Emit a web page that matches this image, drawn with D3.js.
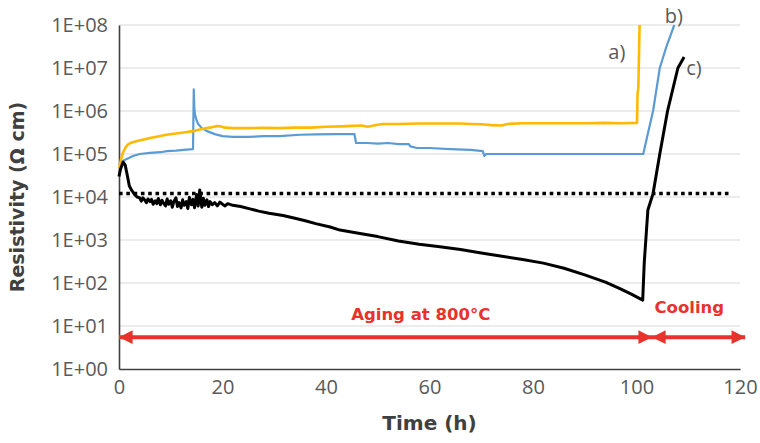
<!DOCTYPE html>
<html>
<head>
<meta charset="utf-8">
<script src="https://cdn.jsdelivr.net/npm/d3@7/dist/d3.min.js"></script>
<style>
  html, body { margin: 0; padding: 0; background: #ffffff; }
  svg { display: block; }
  text { font-family: "Open Sans", "Noto Sans", sans-serif; }
  .title, .stage { font-family: "DejaVu Sans", "Open Sans", sans-serif; font-weight: bold; }
</style>
</head>
<body>
<svg id="chart" width="760" height="443"></svg>
<script>
// Resistivity vs. time during aging at 800 °C followed by cooling

// series a) — yellow
const timeA = [0, 0.4, 0.8, 1.3, 1.8, 2.5, 3.5, 5, 6, 7.5, 9.2, 11, 12.5, 14.3, 16, 17.5, 19, 19.5, 20.5, 22, 25, 28, 31, 34, 37, 40, 43, 45, 47, 48, 50, 51, 54, 58, 62, 66, 68, 70, 72, 74, 75, 78, 82, 86, 90, 94, 97, 99.9, 100.1, 100.2, 100.35, 100.45, 100.6];
const valueA = [4.6e4, 7.5e4, 1.1e5, 1.45e5, 1.7e5, 1.85e5, 2.0e5, 2.2e5, 2.35e5, 2.55e5, 2.8e5, 3.0e5, 3.15e5, 3.4e5, 3.8e5, 4.1e5, 4.5e5, 4.4e5, 4.1e5, 4.0e5, 4.0e5, 4.05e5, 4.0e5, 4.1e5, 4.1e5, 4.3e5, 4.4e5, 4.5e5, 4.6e5, 4.3e5, 4.8e5, 5.0e5, 5.0e5, 5.1e5, 5.1e5, 5.1e5, 5.0e5, 4.9e5, 4.7e5, 4.6e5, 5.0e5, 5.2e5, 5.2e5, 5.2e5, 5.2e5, 5.3e5, 5.2e5, 5.3e5, 5.3e5, 2.5e6, 3.5e6, 1.2e7, 1e8];

// series b) — blue
const timeB = [0, 0.5, 1, 2, 2.7, 4, 6, 8, 9.3, 11, 12.5, 14.3, 14.45, 14.55, 14.7, 15, 15.3, 16, 17, 18.5, 20, 22, 25, 28, 31, 35, 38, 42, 45.5, 45.8, 48, 50, 52, 54, 56, 56.3, 57.6, 60, 64, 68, 70.3, 70.6, 71, 71.3, 75, 80, 85, 90, 95, 101.3, 102.2, 103.2, 104.5, 105.8, 107.3];
const valueB = [5.5e4, 6.3e4, 7.2e4, 8.2e4, 9.0e4, 1.0e5, 1.06e5, 1.1e5, 1.17e5, 1.2e5, 1.25e5, 1.3e5, 3.2e6, 1.2e6, 8.0e5, 6.0e5, 5.0e5, 4.0e5, 3.4e5, 2.9e5, 2.6e5, 2.5e5, 2.5e5, 2.6e5, 2.6e5, 2.8e5, 2.85e5, 2.9e5, 2.9e5, 1.8e5, 1.8e5, 1.75e5, 1.8e5, 1.7e5, 1.7e5, 1.5e5, 1.38e5, 1.38e5, 1.3e5, 1.25e5, 1.17e5, 9.0e4, 1.0e5, 1.0e5, 1.0e5, 1.0e5, 1.0e5, 1.0e5, 1.0e5, 1.0e5, 3.0e5, 1.0e6, 1.0e7, 3.2e7, 1e8];

// series c) — black
const timeC = [0, 0.3, 0.8, 1.2, 1.6, 2.0, 2.5, 3.0, 3.5, 4.0, 4.3, 4.6, 5.0, 5.3, 5.6, 6.0, 6.3, 6.6, 7.0, 7.3, 7.6, 8.0, 8.3, 8.6, 9.0, 9.3, 9.6, 10, 10.3, 10.6, 11, 11.3, 11.6, 12, 12.3, 12.6, 13, 13.3, 13.6, 14, 14.3, 14.6, 15, 15.3, 15.6, 16, 16.3, 16.6, 17, 17.3, 17.6, 18, 18.5, 19, 19.5, 20, 20.5, 21, 22, 23.5, 25.3, 27, 29, 31.7, 34, 36, 38, 40.8, 42.7, 46, 50, 54, 58, 62, 66, 70, 74, 78, 82, 86, 90, 94, 97, 99, 101.2, 101.5, 101.8, 102.2, 103.2, 104.5, 106, 108, 109.2];
const valueC = [3.0e4, 4.5e4, 6.5e4, 5.5e4, 3.2e4, 1.8e4, 1.4e4, 1.15e4, 1.0e4, 9.5e3, 8.0e3, 9.6e3, 8.4e3, 7.4e3, 9.0e3, 7.8e3, 8.8e3, 6.8e3, 8.2e3, 7.0e3, 9.2e3, 6.6e3, 8.4e3, 7.2e3, 6.2e3, 9.0e3, 6.8e3, 8.2e3, 5.8e3, 7.8e3, 9.6e3, 6.0e3, 7.4e3, 5.6e3, 8.6e3, 6.4e3, 7.8e3, 5.4e3, 9.8e3, 6.6e3, 8.8e3, 5.6e3, 1.15e4, 6.2e3, 1.45e4, 5.8e3, 9.4e3, 6.4e3, 8.6e3, 6.0e3, 7.8e3, 6.6e3, 7.4e3, 6.2e3, 7.6e3, 6.8e3, 6.2e3, 7.0e3, 6.4e3, 6.0e3, 5.3e3, 4.7e3, 4.2e3, 3.7e3, 3.2e3, 2.8e3, 2.4e3, 2.0e3, 1.7e3, 1.45e3, 1.2e3, 9.5e2, 8.0e2, 7.0e2, 6.0e2, 5.0e2, 4.2e2, 3.5e2, 2.9e2, 2.2e2, 1.55e2, 1.05e2, 7.2e1, 5.5e1, 4.0e1, 3.0e2, 1.0e3, 5.0e3, 1.2e4, 1.0e5, 1.0e6, 1.0e7, 1.8e7];

// horizontal dotted reference level
const timeRef = [0, 118];
const valueRef = [1.2e4, 1.2e4];

const xTicks = [0, 20, 40, 60, 80, 100, 120];
const yTicks = [1, 1e1, 1e2, 1e3, 1e4, 1e5, 1e6, 1e7, 1e8];
const yTickLabels = ["1E+00", "1E+01", "1E+02", "1E+03", "1E+04", "1E+05", "1E+06", "1E+07", "1E+08"];

const seriesLabels = ["a)", "b)", "c)"];
const stageNames = ["Aging at 800\u00B0C", "Cooling"];
const stageBounds = [[0, 103], [103, 121]];

const svg = d3.select("#chart");
const plot = { left: 119, right: 740, top: 25, bottom: 369 };

const x = d3.scaleLinear().domain([0, 120]).range([plot.left, plot.right]);
const y = d3.scaleLog().domain([1, 1e8]).range([plot.bottom, plot.top]);

const axisColor = "#595959";

// horizontal gridlines
svg.append("g")
  .selectAll("line")
  .data(yTicks.slice(1))
  .join("line")
  .attr("x1", plot.left).attr("x2", plot.right)
  .attr("y1", d => y(d)).attr("y2", d => y(d))
  .attr("stroke", "#d9d9d9").attr("stroke-width", 1.2);

// y axis
const yAxis = d3.axisLeft(y)
  .tickValues(yTicks)
  .tickFormat((d, i) => yTickLabels[i])
  .tickSize(0)
  .tickPadding(11);
const gy = svg.append("g").attr("transform", `translate(${plot.left},0)`).call(yAxis);
gy.select(".domain").attr("stroke", "#404040").attr("stroke-width", 1.6);
gy.selectAll("text")
  .attr("fill", axisColor)
  .style("font-family", "'Open Sans', sans-serif")
  .style("font-size", "20px");

// x axis
const xAxis = d3.axisBottom(x)
  .tickValues(xTicks)
  .tickSize(0)
  .tickPadding(11);
const gx = svg.append("g").attr("transform", `translate(0,${plot.bottom})`).call(xAxis);
gx.select(".domain").attr("stroke", "#404040").attr("stroke-width", 1.6);
gx.selectAll("text")
  .attr("fill", axisColor)
  .style("font-family", "'Open Sans', sans-serif")
  .style("font-size", "20px");

// axis titles
svg.append("text")
  .attr("class", "title")
  .attr("transform", `translate(24,${(plot.top + plot.bottom) / 2}) rotate(-90)`)
  .attr("text-anchor", "middle")
  .attr("fill", "#404040")
  .style("font-size", "19px")
  .text("Resistivity (\u03A9 cm)");

svg.append("text")
  .attr("class", "title")
  .attr("x", (plot.left + plot.right) / 2)
  .attr("y", 430)
  .attr("text-anchor", "middle")
  .attr("fill", "#404040")
  .style("font-size", "20px")
  .text("Time (h)");

// data lines
const toPoints = (ts, vs) => ts.map((t, i) => [t, vs[i]]);
const line = d3.line().x(d => x(d[0])).y(d => y(d[1]));

svg.append("path")
  .datum(toPoints(timeRef, valueRef))
  .attr("d", line)
  .attr("fill", "none")
  .attr("stroke", "#000")
  .attr("stroke-width", 3.5)
  .attr("stroke-dasharray", "3.6,3.7");

svg.append("path")
  .datum(toPoints(timeB, valueB))
  .attr("d", line)
  .attr("fill", "none")
  .attr("stroke", "#5b9bd5")
  .attr("stroke-width", 2.2)
  .attr("stroke-linejoin", "round");

svg.append("path")
  .datum(toPoints(timeA, valueA))
  .attr("d", line)
  .attr("fill", "none")
  .attr("stroke", "#ffb900")
  .attr("stroke-width", 2.6)
  .attr("stroke-linejoin", "round");

svg.append("path")
  .datum(toPoints(timeC, valueC))
  .attr("d", line)
  .attr("fill", "none")
  .attr("stroke", "#000")
  .attr("stroke-width", 3)
  .attr("stroke-linejoin", "round");

// series labels
const labelPos = [[96.2, 2.3e7], [107.2, 1.6e8], [111.1, 1.0e7]];
svg.append("g")
  .selectAll("text")
  .data(seriesLabels)
  .join("text")
  .attr("x", (d, i) => x(labelPos[i][0]))
  .attr("y", (d, i) => y(labelPos[i][1]))
  .attr("dy", "0.35em")
  .attr("text-anchor", "middle")
  .attr("fill", axisColor)
  .style("font-size", "20px")
  .text(d => d);

// stage arrows
const red = "#e8322b";
const arrowY = y(5.5);
const defs = svg.append("defs");
defs.append("marker")
  .attr("id", "head")
  .attr("viewBox", "0 0 10 10")
  .attr("refX", 10).attr("refY", 5)
  .attr("markerWidth", 3.8).attr("markerHeight", 3.4)
  .attr("markerUnits", "strokeWidth")
  .attr("orient", "auto-start-reverse")
  .append("path")
  .attr("d", "M0,0 L10,5 L0,10 Z")
  .attr("fill", red);

svg.append("g")
  .selectAll("line")
  .data(stageBounds)
  .join("line")
  .attr("x1", d => x(d[0]))
  .attr("x2", d => x(d[1]))
  .attr("y1", arrowY).attr("y2", arrowY)
  .attr("stroke", red)
  .attr("stroke-width", 4)
  .attr("marker-start", "url(#head)")
  .attr("marker-end", "url(#head)");

const stageLabelPos = [[58.3, 320], [110.2, 313]];
svg.append("g")
  .selectAll("text")
  .data(stageNames)
  .join("text")
  .attr("class", "stage")
  .attr("x", (d, i) => x(stageLabelPos[i][0]))
  .attr("y", (d, i) => stageLabelPos[i][1])
  .attr("text-anchor", "middle")
  .attr("fill", red)
  .style("font-size", "16.5px")
  .text(d => d);
</script>
</body>
</html>
